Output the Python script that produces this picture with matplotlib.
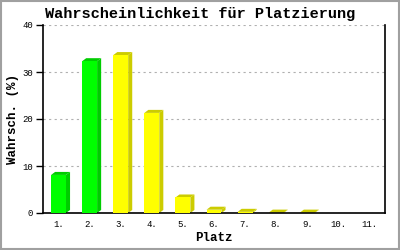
import matplotlib
matplotlib.use("Agg")
import matplotlib.pyplot as plt
from matplotlib.patches import Rectangle

# Werte
plaetze = ["1.", "2.", "3.", "4.", "5.", "6.", "7.", "8.", "9.", "10.", "11."]
wahrsch = [8.1, 32.3, 33.6, 21.3, 3.3, 0.7, 0.25, 0.08, 0.08, 0.0, 0.0]
farben_vorne = ["#00ff00", "#00ff00"] + ["#ffff00"] * 9
farben_seite = ["#00cc00", "#00cc00"] + ["#cccc00"] * 9

mono = "Liberation Mono"

fig = plt.figure(figsize=(4, 2.5), dpi=100)
ax = fig.add_axes([0.1075, 0.148, 0.855, 0.752])

x = list(range(1, len(plaetze) + 1))
breite = 0.48
dx, dy = 0.13, 0.64  # 3D-Versatz

for xi, v, fv, fs in zip(x, wahrsch, farben_vorne, farben_seite):
    if v <= 0:
        continue
    x0, x1 = xi - breite / 2, xi + breite / 2
    # Seite und Deckel
    ax.fill([x1, x1 + dx, x1 + dx, x1], [0, dy, v + dy, v], color=fs, lw=0, zorder=2)
    ax.fill([x0, x0 + dx, x1 + dx, x1], [v, v + dy, v + dy, v], color=fs, lw=0, zorder=2)
ax.bar(x, wahrsch, width=breite, color=farben_vorne, lw=0, zorder=3)

ax.set_xlim(0.5, 11.5)
ax.set_ylim(0, 40)
ax.set_yticks([0, 10, 20, 30, 40])
ax.set_xticks(x)
ax.set_xticklabels(plaetze)
ax.tick_params(axis="x", length=0, pad=5)
ax.tick_params(axis="y", length=5, width=1, pad=2)
for lab in ax.get_xticklabels() + ax.get_yticklabels():
    lab.set_fontfamily(mono)
    lab.set_fontsize(6.5)

ax.yaxis.grid(True, color="#b0b0b0", linestyle=(0, (2, 3)), lw=0.8, zorder=1)
ax.spines["top"].set_visible(False)
for s in ["left", "right", "bottom"]:
    ax.spines[s].set_linewidth(1.2)

ax.set_xlabel("Platz", fontfamily=mono, fontweight="bold", fontsize=9)
ax.xaxis.set_label_coords(0.5, -0.1)
ax.set_ylabel("Wahrsch. (%)", fontfamily=mono, fontweight="bold", fontsize=9)
ax.yaxis.set_label_coords(-0.07, 0.5)

fig.text(0.5, 0.943, "Wahrscheinlichkeit für Platzierung", ha="center", va="center",
         fontfamily=mono, fontweight="bold", fontsize=11)

# grauer Rahmen ums Bild
fig.patches.append(Rectangle((0.002, 0.003), 0.996, 0.994, transform=fig.transFigure,
                             fill=False, edgecolor="#a0a0a0", lw=1.5))

fig.savefig("out.png", dpi=100)
